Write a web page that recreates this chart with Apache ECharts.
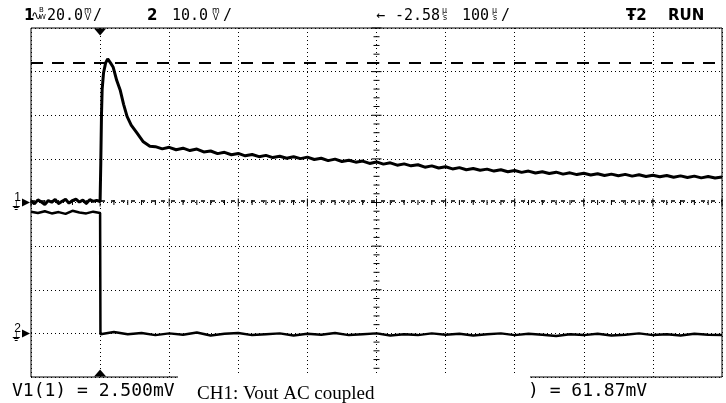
<!DOCTYPE html>
<html><head><meta charset="utf-8">
<script src="https://cdn.jsdelivr.net/npm/echarts@6.0.0/dist/echarts.min.js"></script>
<style>html,body{margin:0;padding:0;background:#fff}#c{width:726px;height:403px}</style>
</head><body><div id="c"></div>
<script>
// Time axis (µs), 100 µs/div, trigger at 0
const timeRange = [-100, 900];
const timeStep = 100;
// CH1 axis (mV), 20 mV/div ; CH2 axis (mV), 10 mV/div, ground 3 div below centre
const ch1Range = [-80, 80];
const ch1Step = 20;
const ch2Range = [-10, 70];
const ch2Step = 10;

// CH1 trace: time (µs) and value (mV)
const ch1PreTime = [-100,-95,-90,-85,-80,-75,-70,-65,-60,-55,-50,-45,-40,-35,-30,-25,-20,-15,-10,-5,0];
const ch1PreMv   = [0.8,-0.6,1.2,0.2,-0.9,0.9,0.1,1.4,-0.5,0.6,1.5,-0.3,0.9,1.6,0.2,1.1,-0.4,1.3,0.5,1.0,0.4];
const ch1PulseTime = [1,2,3,5,8,11,13,15,19,24,29,34,39,45,53,62,72];
const ch1PulseMv   = [18,40,52,59.5,64,65.8,65.2,64,62,56,51.6,45,39.5,35.5,32,28,25.8];
const ch1TailStart = 80, ch1TailStep = 10;
const ch1TailMv = [25.6,24.6,25.3,24.2,24.9,23.8,24.5,23.2,23.6,22.4,23.0,21.9,22.5,21.4,22.0,21.0,21.6,20.6,21.2,20.3,
  21.0,20.1,20.8,19.7,20.3,19.2,19.9,18.8,19.4,18.5,19.0,17.9,18.6,17.6,18.2,17.1,17.7,16.8,17.3,16.2,
  16.8,15.8,16.4,15.4,16.0,15.0,15.6,14.8,15.3,14.4,15.0,14.1,14.7,13.8,14.4,13.5,14.1,13.3,13.9,13.0,
  13.6,12.8,13.4,12.6,13.2,12.4,13.0,12.3,12.9,12.1,12.7,11.9,12.5,11.8,12.4,11.6,12.2,11.5,12.1,11.3,
  11.9,11.2,11.7];

// CH2 trace
const ch2PreTime = [-100,-90,-80,-70,-60,-50,-40,-30,-20,-10,0];
const ch2PreMv   = [27.9,27.6,28.0,27.5,27.8,27.4,28.1,27.7,27.5,27.9,27.6];
const ch2PostStart = 0.5, ch2PostStep = 20;
const ch2PostMv = [-0.2,0.3,-0.2,0.1,-0.4,0.0,-0.3,0.2,-0.5,-0.1,0.1,-0.4,-0.2,0.0,-0.5,-0.1,-0.3,0.1,-0.4,-0.2,
  0.0,-0.5,-0.2,-0.4,0.0,-0.3,-0.1,-0.5,-0.2,0.0,-0.4,-0.1,-0.3,-0.6,-0.2,-0.4,-0.1,-0.5,-0.3,0.0,
  -0.4,-0.2,-0.5,-0.1,-0.3,-0.4];

// Cursor levels on CH1 (mV), as drawn
const cursorLevels = [1, 64];
// Readout texts
const headerCh1 = ['1', '20.0', '/'];
const headerCh2 = ['2', '10.0', '/'];
const headerTime = ['←', '-2.58', '100', '/'];
const readoutV1 = 'V1(1) = 2.500mV';
const readoutV2 = ') = 61.87mV';
const caption = 'CH1: Vout AC coupled';

const ch1Data = [];
ch1PreTime.forEach((t,i)=>ch1Data.push([t, ch1PreMv[i]]));
ch1PulseTime.forEach((t,i)=>ch1Data.push([t, ch1PulseMv[i]]));
ch1TailMv.forEach((v,i)=>ch1Data.push([ch1TailStart + i*ch1TailStep, v]));
const ch2Data = [];
ch2PreTime.forEach((t,i)=>ch2Data.push([t, ch2PreMv[i]]));
ch2PostMv.forEach((v,i)=>ch2Data.push([i===0?ch2PostStart:(i*ch2PostStep), v]));

// centre-axis graticule ticks (1/5 division)
const tickData = [];
for (let v = ch1Range[0]; v <= ch1Range[1]; v += ch1Step/5) tickData.push([400, v, 1, v % ch1Step === 0 ? 5 : 3]);
for (let t = timeRange[0]; t <= timeRange[1]; t += timeStep/5) tickData.push([t, 0, 0, t % timeStep === 0 ? 4 : 2.5]);

const MONO = '"DejaVu Sans Mono", monospace';
const BOLD = 'bold 15px "DejaVu Sans", sans-serif';
function txt(x, y, s, font){ return {type:'text', x:x, y:y, z:200, style:{text:s, font:font, fill:'#000', textVerticalAlign:'middle'}}; }

const chart = echarts.init(document.getElementById('c'), null, {renderer:'canvas'});
const dotted = {color:'#000', width:1, type:[1,3]};
chart.setOption({
  animation:false,
  backgroundColor:'#fff',
  grid:{left:31, top:28, width:691, height:349, show:true, borderColor:'#000', borderWidth:1, backgroundColor:'#fff'},
  xAxis:{type:'value', min:timeRange[0], max:timeRange[1], interval:timeStep,
    axisLine:{show:false}, axisTick:{show:false}, axisLabel:{show:false},
    splitLine:{show:true, lineStyle:dotted}},
  yAxis:[
    {type:'value', min:ch1Range[0], max:ch1Range[1], interval:ch1Step,
      axisLine:{show:false}, axisTick:{show:false}, axisLabel:{show:false},
      splitLine:{show:true, lineStyle:dotted}},
    {type:'value', min:ch2Range[0], max:ch2Range[1], interval:ch2Step, show:false, splitLine:{show:false}}
  ],
  series:[
    {type:'custom', xAxisIndex:0, yAxisIndex:0, silent:true, z:3, data:tickData,
      renderItem:(params, api)=>{
        const p = api.coord([api.value(0), api.value(1)]);
        const len = api.value(3);
        const h = api.value(2) === 1;
        return {type:'line', shape: h ? {x1:p[0]-len, y1:p[1], x2:p[0]+len, y2:p[1]} : {x1:p[0], y1:p[1]-len, x2:p[0], y2:p[1]+len},
          style:{stroke:'#000', lineWidth:1}};
      }},
    {type:'line', name:'CH2', yAxisIndex:1, data:ch2Data, showSymbol:false, z:5,
      lineStyle:{color:'#000', width:2.5},
      markPoint:{silent:true, data:[
        {coord:[timeRange[0], 0], symbol:'triangle', symbolRotate:-90, symbolSize:[8,8], symbolOffset:[-5,0],
          itemStyle:{color:'#000'},
          label:{show:true, position:'left', distance:1, formatter:'{a|2}\n{b|⏚}', rich:{a:{font:'10px "DejaVu Sans"', color:'#000', lineHeight:9}, b:{font:'9px "DejaVu Sans"', color:'#000', lineHeight:9}}}}
      ]}},
    {type:'line', name:'CH1', yAxisIndex:0, data:ch1Data, showSymbol:false, z:6,
      lineStyle:{color:'#000', width:3},
      markLine:{silent:true, symbol:'none', label:{show:false}, data:[
        {yAxis:cursorLevels[0], lineStyle:{color:'#000', width:1.5, type:[4,6]}},
        {yAxis:cursorLevels[1], lineStyle:{color:'#000', width:2, type:[12,9]}}
      ]},
      markPoint:{silent:true, data:[
        {coord:[timeRange[0], 0], symbol:'triangle', symbolRotate:-90, symbolSize:[8,8], symbolOffset:[-5,0],
          itemStyle:{color:'#000'},
          label:{show:true, position:'left', distance:1, formatter:'{a|1}\n{b|⏚}', rich:{a:{font:'10px "DejaVu Sans"', color:'#000', lineHeight:9}, b:{font:'9px "DejaVu Sans"', color:'#000', lineHeight:9}}}},
        {coord:[0, ch1Range[1]], symbol:'triangle', symbolRotate:180, symbolSize:[12,7], symbolOffset:[0,4], itemStyle:{color:'#000'}, label:{show:false}},
        {coord:[0, ch1Range[0]], symbol:'triangle', symbolSize:[12,7], symbolOffset:[0,-4], itemStyle:{color:'#000'}, label:{show:false}}
      ]}}
  ],
  graphic:[
    {type:'rect', x:178, y:374, z:150, shape:{width:352, height:29}, style:{fill:'#fff'}},
    txt(24, 16, headerCh1[0], BOLD),
    txt(31, 17, '∿', '13px "DejaVu Sans"'),
    txt(39, 10, 'B', '7px "DejaVu Sans"'),
    txt(39, 17, 'W', '7px "DejaVu Sans"'),
    txt(47, 16, headerCh1[1], '15px '+MONO),
    txt(84, 11, 'm', '8px "DejaVu Sans"'),
    txt(85, 18, 'V', '8px "DejaVu Sans"'),
    txt(93, 16, headerCh1[2], '15px '+MONO),
    txt(147, 16, headerCh2[0], BOLD),
    txt(172, 16, headerCh2[1], '15px '+MONO),
    txt(212, 11, 'm', '8px "DejaVu Sans"'),
    txt(213, 18, 'V', '8px "DejaVu Sans"'),
    txt(223, 16, headerCh2[2], '15px '+MONO),
    txt(376, 16, headerTime[0], '15px '+MONO),
    txt(395, 16, headerTime[1], '15px '+MONO),
    txt(442, 11, 'µ', '8px "DejaVu Sans"'),
    txt(443, 18, 's', '8px "DejaVu Sans"'),
    txt(462, 16, headerTime[2], '15px '+MONO),
    txt(492, 11, 'µ', '8px "DejaVu Sans"'),
    txt(493, 18, 's', '8px "DejaVu Sans"'),
    txt(501, 16, headerTime[3], '15px '+MONO),
    txt(626, 16, 'Ŧ2', BOLD),
    txt(668, 16, 'RUN', BOLD),
    txt(12, 391, readoutV1, '18px '+MONO),
    txt(528, 391, readoutV2, '18px '+MONO),
    txt(197, 394, caption, '19px "Liberation Serif", serif')
  ]
});
</script></body></html>
